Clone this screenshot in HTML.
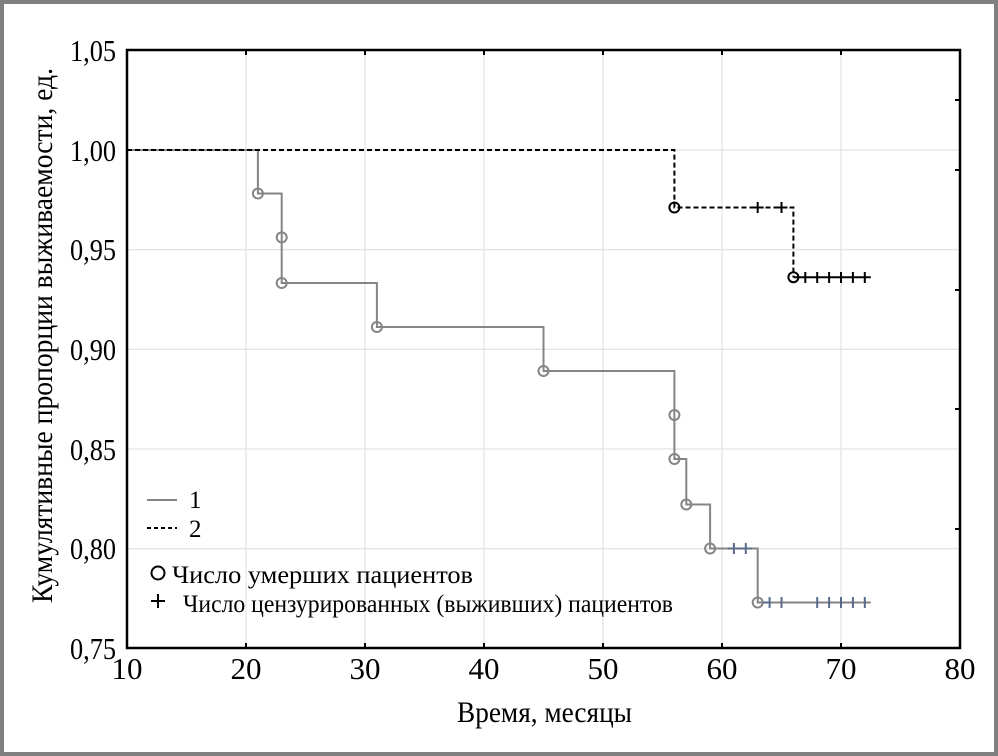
<!DOCTYPE html>
<html><head><meta charset="utf-8"><style>
html,body{margin:0;padding:0;background:#fff}
svg{display:block}
text{font-family:"Liberation Serif",serif;fill:#000}
</style></head><body>
<svg width="998" height="756" viewBox="0 0 998 756" xmlns="http://www.w3.org/2000/svg">
<rect x="2" y="2" width="994" height="752" fill="#fff" stroke="#808080" stroke-width="4"/>
<g stroke="#e4e4e4" stroke-width="1.3">
<line x1="246" y1="50" x2="246" y2="648"/><line x1="365" y1="50" x2="365" y2="648"/>
<line x1="484" y1="50" x2="484" y2="648"/><line x1="603" y1="50" x2="603" y2="648"/>
<line x1="722" y1="50" x2="722" y2="648"/><line x1="841" y1="50" x2="841" y2="648"/>
<line x1="127" y1="150" x2="960" y2="150"/><line x1="127" y1="249.7" x2="960" y2="249.7"/>
<line x1="127" y1="349.3" x2="960" y2="349.3"/><line x1="127" y1="449" x2="960" y2="449"/>
<line x1="127" y1="548.7" x2="960" y2="548.7"/>
</g>
<g stroke="#000" stroke-width="2">
<line x1="246" y1="50" x2="246" y2="55"/><line x1="365" y1="50" x2="365" y2="55"/><line x1="484" y1="50" x2="484" y2="55"/><line x1="603" y1="50" x2="603" y2="55"/><line x1="722" y1="50" x2="722" y2="55"/><line x1="841" y1="50" x2="841" y2="55"/>
<line x1="246" y1="648" x2="246" y2="643"/><line x1="365" y1="648" x2="365" y2="643"/><line x1="484" y1="648" x2="484" y2="643"/><line x1="603" y1="648" x2="603" y2="643"/><line x1="722" y1="648" x2="722" y2="643"/><line x1="841" y1="648" x2="841" y2="643"/>
<line x1="960" y1="100" x2="955" y2="100"/><line x1="960" y1="170" x2="955" y2="170"/><line x1="960" y1="290" x2="955" y2="290"/><line x1="960" y1="409" x2="955" y2="409"/><line x1="960" y1="529" x2="955" y2="529"/>
</g>
<g fill="none" stroke="#858585" stroke-width="2">
<polyline points="127,150 257.9,150 257.9,193.5 281.7,193.5 281.7,283 376.9,283 376.9,327 543.5,327 543.5,371 674.4,371 674.4,459 686.3,459 686.3,504.5 710.1,504.5 710.1,548.5 757.7,548.5 757.7,602.5 870.8,602.5"/>
<circle cx="257.9" cy="193.5" r="5"/><circle cx="281.7" cy="237.4" r="5"/><circle cx="281.7" cy="283" r="5"/><circle cx="376.9" cy="327" r="5"/><circle cx="543.5" cy="371" r="5"/><circle cx="674.4" cy="415" r="5"/><circle cx="674.4" cy="459" r="5"/><circle cx="686.3" cy="504.5" r="5"/><circle cx="710.1" cy="548.5" r="5"/><circle cx="757.7" cy="602.5" r="5"/>
</g>
<g stroke="#5a6a8a" stroke-width="2">
<path d="M733.9,543v11M745.8,543v11M728,548.5h24M769.6,597v11M781.5,597v11M817.2,597v11M829.1,597v11M841,597v11M852.9,597v11M864.8,597v11M763,602.5h8"/>
</g>
<g fill="none" stroke="#000" stroke-width="2">
<polyline stroke-dasharray="5,3" points="127,150 674.4,150 674.4,207.5 793.4,207.5 793.4,277.2"/>
<line x1="793.4" y1="277.2" x2="870.8" y2="277.2"/>
<circle cx="674.4" cy="207.5" r="5"/><circle cx="793.4" cy="277.2" r="5"/>
<path d="M757.7,202v11M751.7,207.5h12M781.5,202v11M775.5,207.5h12M805.3,272v11M817.2,272v11M829.1,272v11M841,272v11M852.9,272v11M864.8,272v11"/>
</g>
<rect x="127" y="50" width="833" height="598" fill="none" stroke="#000" stroke-width="2.5"/>
<g font-size="31" text-anchor="end">
<text x="116" y="61" textLength="46" lengthAdjust="spacingAndGlyphs">1,05</text><text x="116" y="161" textLength="46" lengthAdjust="spacingAndGlyphs">1,00</text><text x="116" y="260" textLength="46" lengthAdjust="spacingAndGlyphs">0,95</text><text x="116" y="360" textLength="46" lengthAdjust="spacingAndGlyphs">0,90</text><text x="116" y="460" textLength="46" lengthAdjust="spacingAndGlyphs">0,85</text><text x="116" y="559" textLength="46" lengthAdjust="spacingAndGlyphs">0,80</text><text x="116" y="659" textLength="46" lengthAdjust="spacingAndGlyphs">0,75</text>
</g>
<g font-size="31" text-anchor="middle">
<text x="127" y="679">10</text><text x="246" y="679">20</text><text x="365" y="679">30</text><text x="484" y="679">40</text><text x="603" y="679">50</text><text x="722" y="679">60</text><text x="841" y="679">70</text><text x="960" y="679">80</text>
</g>
<text x="457" y="722" font-size="30" textLength="175" lengthAdjust="spacingAndGlyphs">Время, месяцы</text>
<text transform="translate(52,603) rotate(-90)" font-size="30" textLength="535" lengthAdjust="spacingAndGlyphs">Кумулятивные пропорции выживаемости, ед.</text>
<line x1="147" y1="500" x2="177" y2="500" stroke="#858585" stroke-width="2"/>
<text x="189" y="508" font-size="25">1</text>
<line x1="147" y1="528" x2="177" y2="528" stroke="#000" stroke-width="2" stroke-dasharray="4,3"/>
<text x="189" y="537" font-size="25">2</text>
<circle cx="158" cy="573" r="6.5" fill="none" stroke="#000" stroke-width="2"/>
<text x="172" y="583" font-size="25" textLength="301" lengthAdjust="spacingAndGlyphs">Число умерших пациентов</text>
<path d="M158,594v14M151,601h14" stroke="#000" stroke-width="2"/>
<text x="183" y="612" font-size="25" textLength="490" lengthAdjust="spacingAndGlyphs">Число цензурированных (выживших) пациентов</text>
</svg>
</body></html>
